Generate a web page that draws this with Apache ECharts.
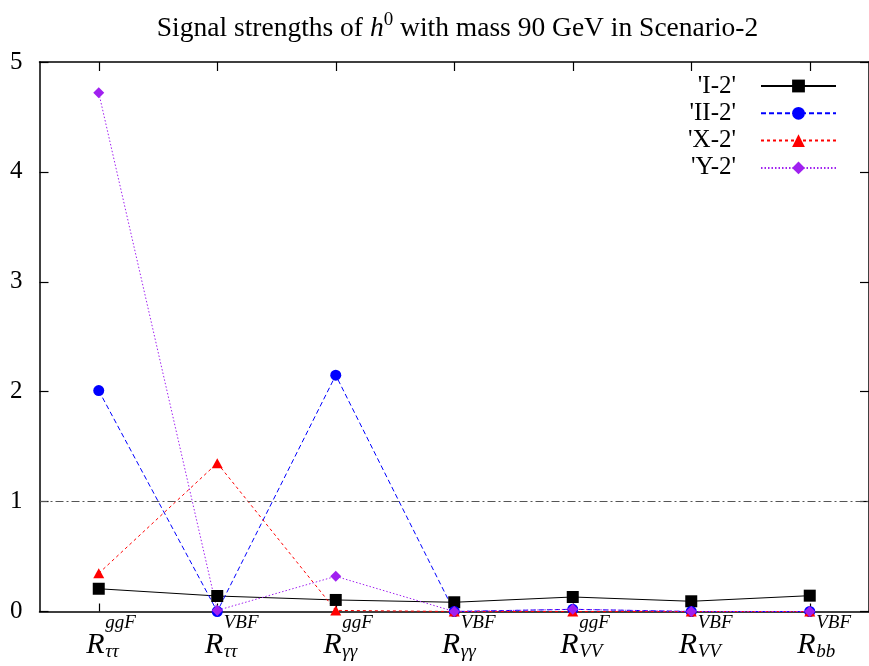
<!DOCTYPE html>
<html>
<head>
<meta charset="utf-8">
<script src="https://cdn.jsdelivr.net/npm/echarts@6/dist/echarts.min.js"></script>
<style>
html,body{margin:0;padding:0;background:#fff;}
#chart{width:869px;height:666px;}
</style>
</head>
<body>
<div id="chart"></div>
<script>
// ---- data ----
const categories = ['R_tautau_ggF', 'R_tautau_VBF', 'R_gamgam_ggF', 'R_gamgam_VBF', 'R_VV_ggF', 'R_VV_VBF', 'R_bb_VBF'];
const labelSup = ['ggF', 'VBF', 'ggF', 'VBF', 'ggF', 'VBF', 'VBF'];
const labelSub = ['ττ', 'ττ', 'γγ', 'γγ', 'VV', 'VV', 'bb'];
const seriesNames = ["'I-2'", "'II-2'", "'X-2'", "'Y-2'"];
const valuesI2  = [0.207, 0.141, 0.105, 0.084, 0.132, 0.093, 0.144];
const valuesII2 = [2.01, 0.0, 2.15, 0.0, 0.02, 0.0, 0.0];
const valuesX2  = [0.347, 1.35, 0.01, 0.0, 0.0, 0.0, 0.0];
const valuesY2  = [4.72, 0.01, 0.32, 0.0, 0.02, 0.0, 0.0];
const referenceLevel = 1;
const yTicks = [0, 1, 2, 3, 4, 5];

const SERIF = "'Liberation Serif', 'DejaVu Serif', serif";
const chart = echarts.init(document.getElementById('chart'), null, {renderer: 'canvas'});

function lineSeries(name, data, color, type, symbol, size) {
  return {
    name: name, type: 'line', data: data,
    symbol: symbol, symbolSize: size,
    lineStyle: {color: color, width: 1, type: type},
    itemStyle: {color: color},
    emphasis: {disabled: true},
    animation: false
  };
}

const s1 = lineSeries(seriesNames[0], valuesI2, '#000000', 'solid', 'rect', 12);
s1.markLine = {
  silent: true, symbol: 'none', label: {show: false},
  lineStyle: {color: '#555555', width: 1, type: [8, 3, 2, 3]},
  data: [{yAxis: referenceLevel}],
  animation: false
};

const option = {
  backgroundColor: '#ffffff',
  animation: false,
  title: {
    left: 452.5, top: 9, textAlign: 'center',
    text: '{t|Signal strengths of }{i|h}{s|0}{t| with mass 90 GeV in Scenario-2}',
    textStyle: {
      fontWeight: 'normal',
      rich: {
        t: {fontFamily: SERIF, fontSize: 27.5, fontWeight: 'normal', color: '#000', lineHeight: 30, height: 30},
        i: {fontFamily: SERIF, fontSize: 27.5, fontWeight: 'normal', fontStyle: 'italic', color: '#000', lineHeight: 30, height: 30},
        s: {fontFamily: SERIF, fontSize: 19, fontWeight: 'normal', color: '#000', lineHeight: 13, height: 13, verticalAlign: 'top'}
      }
    }
  },
  legend: {
    orient: 'vertical', right: 32, top: 73.5, align: 'right', padding: 0,
    itemWidth: 75, itemHeight: 16, itemGap: 2.3,
    data: seriesNames,
    formatter: function (n) { return '{n|' + n + '}{g|}'; },
    textStyle: {
      rich: {
        n: {fontFamily: SERIF, fontSize: 25, color: '#000', lineHeight: 20, height: 20},
        g: {width: 20, height: 20}
      }
    }
  },
  grid: {left: 39.5, right: -2, top: 62, bottom: 54.5, containLabel: false},
  xAxis: [{
    type: 'category', data: categories, boundaryGap: true, position: 'bottom',
    axisLine: {onZero: false, lineStyle: {color: '#000', width: 1.5}},
    axisTick: {show: true, inside: true, alignWithLabel: true, length: 8, lineStyle: {color: '#000', width: 1.2}},
    axisLabel: {
      interval: 0, margin: 2,
      formatter: function (v, i) {
        return '{p|}{sup|' + labelSup[i] + '}\n{R|R}{sub|' + labelSub[i] + '}';
      },
      rich: {
        p: {width: 19, height: 22, lineHeight: 22, align: 'left'},
        sup: {fontFamily: SERIF, fontStyle: 'italic', fontSize: 19, color: '#000', width: 6, align: 'left', height: 18, lineHeight: 18, verticalAlign: 'top'},
        R: {fontFamily: SERIF, fontStyle: 'italic', fontSize: 30, color: '#000', width: 19, align: 'left', height: 20, lineHeight: 20},
        sub: {fontFamily: SERIF, fontStyle: 'italic', fontSize: 19, color: '#000', width: 6, align: 'left', height: 8, lineHeight: 8, verticalAlign: 'bottom'}
      }
    },
    splitLine: {show: false}
  }, {
    type: 'category', data: categories, boundaryGap: true, position: 'top',
    axisLine: {show: true, onZero: false, lineStyle: {color: '#000', width: 1.5}},
    axisTick: {show: true, inside: true, alignWithLabel: true, interval: 0, length: 9, lineStyle: {color: '#000', width: 1.2}},
    axisLabel: {show: false},
    splitLine: {show: false}
  }],
  yAxis: [{
    type: 'value', min: yTicks[0], max: yTicks[yTicks.length - 1], interval: 1, position: 'left',
    axisLine: {show: true, onZero: false, lineStyle: {color: '#000', width: 1.5}},
    axisTick: {show: true, inside: true, length: 9, lineStyle: {color: '#000', width: 1.2}},
    axisLabel: {margin: 17, fontFamily: SERIF, fontSize: 25, color: '#000'},
    splitLine: {show: false}
  }, {
    type: 'value', min: yTicks[0], max: yTicks[yTicks.length - 1], interval: 1, position: 'right',
    axisLine: {show: true, onZero: false, lineStyle: {color: '#000', width: 1.5}},
    axisTick: {show: true, inside: true, length: 9, lineStyle: {color: '#000', width: 1.2}},
    axisLabel: {show: false},
    splitLine: {show: false}
  }],
  series: [
    s1,
    lineSeries(seriesNames[1], valuesII2, '#0000ff', [5, 3], 'circle', 11),
    lineSeries(seriesNames[2], valuesX2, '#ff0000', [3, 3], 'triangle', [11, 10]),
    lineSeries(seriesNames[3], valuesY2, '#a020f0', [1.5, 2], 'diamond', [11, 11])
  ]
};
chart.setOption(option);
</script>
</body>
</html>
